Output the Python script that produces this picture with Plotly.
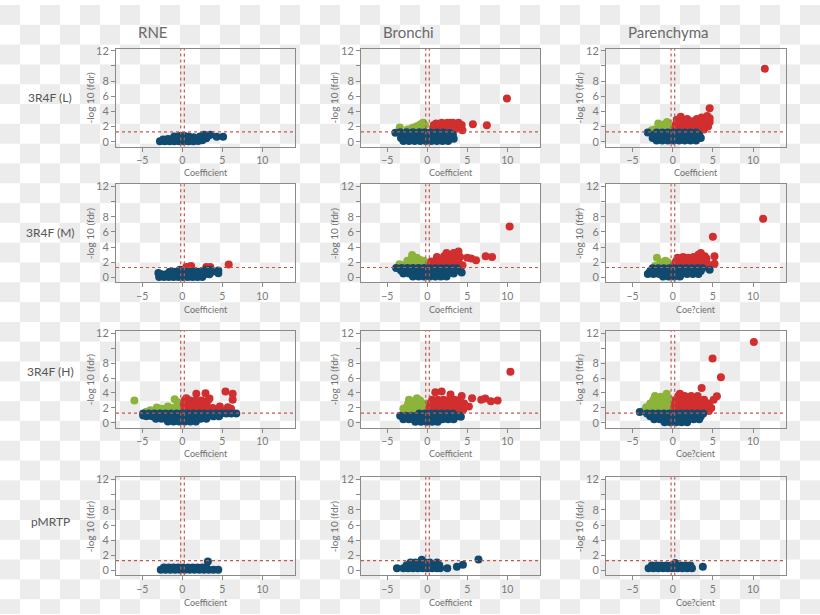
import base64, struct, zlib
import plotly.graph_objects as go

# ---------------- data ----------------
COLUMNS = ["RNE", "Bronchi", "Parenchyma"]
ROWS = ["3R4F (L)", "3R4F (M)", "3R4F (H)", "pMRTP"]
X_TITLES = [
    ["Coefficient", "Coefficient", "Coefficient"],
    ["Coefficient", "Coefficient", "Coe?cient"],
    ["Coefficient", "Coefficient", "Coe?cient"],
    ["Coefficient", "Coefficient", "Coe?cient"],
]
Y_TITLE = "-log 10 (fdr)"
X_TICKS = [-5, 0, 5, 10]
Y_TICKS = [0, 2, 4, 6, 8, 10, 12]
Y_TICK_TEXT = ["0", "2", "4", "6", "8", "", "12"]
FDR_CUTOFF = 1.3
COEF_CUTOFFS = [-0.2, 0.25]

# (coefficient, -log10 fdr) pairs; blue = not significant, green = down, red = up
L_RNE_BLUE = [(-2.8,0.05),(-2.2,0.05),(-1.6,0.05),(-1.0,0.05),(-0.4,0.05),(0.2,0.05),(0.8,0.05),(1.4,0.05),(2.0,0.1),(2.5,0.2),
              (-2.4,0.3),(-1.8,0.35),(-1.2,0.4),(-0.6,0.45),(0.0,0.45),(0.6,0.45),(1.2,0.4),(1.8,0.35),(2.4,0.5),(3.0,0.45),
              (-1.0,0.7),(-0.4,0.75),(0.2,0.8),(0.8,0.7),(1.4,0.6),(2.2,0.7),(2.7,0.9),(3.2,0.75),(3.5,0.9),(4.3,0.65),(5.1,0.65)]
L_RNE_GREEN = []
L_RNE_RED = []

L_BRO_BLUE = [(-3.0,0.1),(-2.3,0.1),(-1.6,0.1),(-0.9,0.1),(-0.2,0.1),(0.5,0.1),(1.2,0.1),(1.9,0.1),(2.6,0.1),
              (-3.3,0.5),(-2.6,0.5),(-1.9,0.5),(-1.2,0.5),(-0.5,0.5),(0.2,0.5),(0.9,0.5),(1.6,0.5),(2.3,0.5),(3.0,0.5),
              (-3.0,0.9),(-2.3,0.9),(-1.6,0.9),(-0.9,0.9),(-0.2,0.9),(0.5,0.9),(1.2,0.9),(1.9,0.9),(2.6,0.9),(3.2,0.9),
              (-3.4,1.25),(-2.6,1.25),(-1.8,1.25),(-1.0,1.25),(-0.3,1.25),(0.4,1.2),(1.2,1.2),(2.0,1.2),(2.8,1.15),
              (-4.0,1.17),(3.3,0.4)]
L_BRO_GREEN = [(-3.45,1.87),(-2.45,1.6),(-1.9,1.8),(-1.3,2.05),(-0.9,2.26),(-0.55,2.5),(-1.1,1.7),(-2.0,1.55),
               (-1.6,1.9),(-0.5,1.9),(-0.3,2.2),(-1.5,1.6)]
L_BRO_RED = [(0.7,1.6),(0.8,2.2),(1.3,1.5),(1.5,1.9),(1.8,2.5),(2.0,1.6),(2.3,2.1),(2.5,2.5),(2.8,1.6),(3.0,2.0),
             (3.2,2.5),(3.5,1.7),(3.7,2.2),(3.9,2.5),(4.1,1.8),(4.4,1.5),(4.3,2.2),(1.1,2.4),(2.9,2.5),
             (5.7,2.3),(7.45,2.17),(9.96,5.7)]

L_PAR_BLUE = [(-2.0,0.15),(-1.3,0.15),(-0.6,0.15),(0.1,0.15),(0.8,0.15),(1.5,0.15),(2.2,0.15),(2.9,0.15),
              (-2.5,0.5),(-1.8,0.5),(-1.1,0.5),(-0.4,0.5),(0.3,0.5),(1.0,0.5),(1.7,0.5),(2.4,0.5),(3.1,0.5),(3.5,0.5),
              (-2.3,0.9),(-1.6,0.9),(-0.9,0.9),(-0.2,0.9),(0.5,0.9),(1.2,0.9),(1.9,0.9),(2.6,0.9),(3.3,0.9),
              (-2.0,1.2),(-1.3,1.2),(-0.6,1.2),(0.1,1.2),(0.8,1.2),(1.5,1.2),(2.2,1.2),(2.9,1.2),
              (-3.1,1.2)]
L_PAR_GREEN = [(-1.8,2.4),(-0.7,2.6),(-2.2,1.6),(-1.3,1.6),(-0.3,2.0),(-2.6,1.5),(-1.7,1.9),(-0.9,1.9),
               (-0.5,1.5),(-1.0,2.3),(-2.0,1.4)]
L_PAR_RED = [(0.3,1.6),(0.4,2.3),(0.5,2.9),(1.0,3.3),(0.9,1.5),(1.0,2.0),(1.2,2.6),(1.5,1.7),(1.7,2.3),(1.8,3.0),
             (2.1,1.5),(2.3,2.0),(2.5,2.7),(2.7,1.6),(2.9,2.2),(3.0,3.0),(3.3,1.8),(3.4,2.5),(3.6,3.2),(3.9,1.6),
             (3.9,2.2),(4.0,2.8),(4.3,3.4),(4.4,2.0),(4.6,2.6),(4.6,4.4),(4.6,3.1),(11.46,9.65)]

M_RNE_BLUE = [(-2.9,0.05),(-2.3,0.05),(-1.7,0.05),(-1.1,0.05),(-0.5,0.05),(0.1,0.05),(0.7,0.05),(1.3,0.05),(1.9,0.05),(2.5,0.05),
              (-2.6,0.4),(-2.0,0.4),(-1.4,0.4),(-0.8,0.4),(-0.2,0.4),(0.4,0.4),(1.0,0.4),(1.6,0.4),(2.2,0.4),(2.8,0.4),(3.4,0.4),
              (-1.6,0.75),(-1.0,0.75),(-0.4,0.75),(0.2,0.75),(0.8,0.75),(1.4,0.75),(2.0,0.75),(2.6,0.75),(3.2,0.75),(3.7,0.75),
              (-3.0,0.57),(-0.3,1.0),(2.9,1.0),(3.5,1.0),(4.5,0.9),(4.5,0.55)]
M_RNE_GREEN = []
M_RNE_RED = [(0.5,1.35),(0.8,1.4),(1.1,1.5),(3.0,1.35),(3.5,1.35),(5.8,1.7)]

M_BRO_BLUE = [(-1.8,0.1),(-1.1,0.1),(-0.4,0.1),(0.3,0.1),(1.0,0.1),(1.7,0.1),(2.4,0.1),
              (-3.0,0.5),(-2.3,0.5),(-1.6,0.5),(-0.9,0.5),(-0.2,0.5),(0.5,0.5),(1.2,0.5),(1.9,0.5),(2.6,0.5),(3.3,0.5),
              (-3.3,0.9),(-2.6,0.9),(-1.9,0.9),(-1.2,0.9),(-0.5,0.9),(0.2,0.9),(0.9,0.9),(1.6,0.9),(2.3,0.9),(3.0,0.9),(3.6,0.9),
              (-3.9,1.25),(-3.2,1.25),(-2.5,1.25),(-1.8,1.25),(-1.1,1.25),(-0.4,1.25),(0.3,1.2),(1.0,1.2),(1.7,1.2),(2.4,1.2),(3.1,1.2),(3.7,1.2),
              (4.3,0.65)]
M_BRO_GREEN = [(-3.5,1.74),(-2.5,2.2),(-1.9,2.96),(-1.3,2.6),(-0.9,2.3),(-0.5,2.2),(-2.9,1.6),(-2.2,1.7),(-1.5,1.8),
               (-0.8,1.7),(-0.3,1.6),(-2.0,2.4),(-1.1,2.1),(-0.2,2.0),(-1.6,2.2)]
M_BRO_RED = [(0.4,1.6),(0.5,2.1),(0.9,1.5),(1.0,2.0),(1.2,2.7),(1.5,1.7),(1.7,2.3),(2.0,1.5),(2.1,2.8),(2.4,2.0),
             (2.4,3.2),(2.7,1.6),(2.9,2.5),(3.1,1.9),(3.3,3.2),(3.5,2.4),(3.6,1.6),(3.9,3.4),(3.9,2.0),(4.1,2.7),
             (5.0,2.6),(5.5,2.5),(6.1,2.26),(7.3,2.8),(8.1,2.7),(10.3,6.7),(4.4,1.6)]

M_PAR_BLUE = [(-1.2,0.1),(-0.5,0.1),(0.2,0.1),(0.9,0.1),
              (-3.1,0.45),(-2.4,0.45),(-1.7,0.45),(-1.0,0.45),(-0.3,0.45),(0.4,0.45),(1.1,0.45),(1.8,0.45),(2.5,0.45),(3.2,0.45),
              (-2.8,0.85),(-2.1,0.85),(-1.4,0.85),(-0.7,0.85),(0.0,0.85),(0.7,0.85),(1.4,0.85),(2.1,0.85),(2.8,0.85),(3.5,0.85),
              (-2.5,1.2),(-1.8,1.2),(-1.1,1.2),(-0.4,1.2),(0.3,1.2),(1.0,1.2),(1.7,1.2),(2.4,1.2),(3.1,1.2),(3.7,1.2),
              (4.6,1.0)]
M_PAR_GREEN = [(-1.96,2.6),(-0.9,2.2),(-2.2,1.5),(-1.6,1.7),(-1.0,1.7),(-0.4,1.6),(-1.4,2.0),(-0.6,2.0),(-0.2,1.5)]
M_PAR_RED = [(0.2,1.5),(0.4,2.1),(0.6,2.6),(0.8,1.6),(1.0,2.2),(1.3,2.7),(1.4,1.5),(1.6,2.0),(1.9,2.6),(2.1,1.6),
             (2.3,2.2),(2.6,2.7),(2.8,1.5),(3.0,2.1),(3.3,2.6),(3.5,3.2),(3.5,1.6),(3.8,2.2),(4.0,2.8),(4.3,1.8),
             (4.2,2.5),(3.2,3.0),(5.0,5.35),(5.2,2.8),(5.2,1.8),(11.25,7.74)]

H_RNE_BLUE = [(-4.9,1.25),(-4.2,1.25),(-3.5,1.25),(-2.8,1.25),(-2.1,1.25),(-1.4,1.25),(-0.7,1.25),(0.0,1.25),(0.7,1.25),
              (1.4,1.25),(2.1,1.25),(2.8,1.25),(3.5,1.25),(4.2,1.25),(4.9,1.25),(5.5,1.25),(6.1,1.25),
              (-4.5,0.9),(-3.8,0.9),(-3.1,0.9),(-2.4,0.9),(-1.7,0.9),(-1.0,0.9),(-0.3,0.9),(0.4,0.9),(1.1,0.9),
              (1.8,0.9),(2.5,0.9),(3.2,0.9),(3.9,0.9),(4.6,0.9),
              (-3.3,0.55),(-2.6,0.55),(-1.9,0.55),(-1.2,0.55),(-0.5,0.55),(0.2,0.55),(0.9,0.55),(1.6,0.55),(2.3,0.55),(3.0,0.55),
              (-1.8,0.2),(-1.1,0.2),(-0.4,0.2),(0.3,0.2),(1.0,0.2),(1.7,0.2),
              (-4.9,1.0),(6.75,1.27)]
H_RNE_GREEN = [(-6.0,3.0),(-0.96,3.15),(-4.0,1.7),(-3.2,2.05),(-2.2,1.9),(-1.8,2.2),(-1.2,2.0),(-0.5,2.35),(-4.5,1.5),
               (-3.7,1.5),(-3.0,1.6),(-2.4,1.5),(-1.6,1.6),(-0.9,1.6),(-0.3,1.7),(-2.7,1.9),(-0.6,2.8)]
H_RNE_RED = [(0.2,1.5),(0.9,1.5),(1.6,1.5),(2.3,1.5),(3.0,1.5),(3.7,1.5),(4.4,1.5),
             (0.3,2.0),(1.0,2.0),(1.7,2.0),(2.4,2.0),(3.1,2.0),(3.8,2.0),
             (0.2,2.5),(0.9,2.5),(1.6,2.5),(2.3,2.5),(3.0,2.5),
             (0.3,3.0),(1.0,3.0),(1.7,3.0),(2.4,3.0),(3.2,3.0),
             (0.5,3.3),(1.75,3.9),(2.9,3.95),(3.4,3.25),
             (5.4,4.2),(6.3,3.9),(6.3,3.1),(5.7,2.1),(6.1,1.9),(3.6,1.9),(4.7,2.2),(5.0,1.6),(5.6,1.6)]

H_BRO_BLUE = [(-1.5,0.15),(-0.8,0.15),(-0.1,0.15),(0.6,0.15),(1.3,0.15),
              (-3.0,0.5),(-2.3,0.5),(-1.6,0.5),(-0.9,0.5),(-0.2,0.5),(0.5,0.5),(1.2,0.5),(1.9,0.5),(2.6,0.5),(3.3,0.5),
              (-3.4,0.95),(-2.7,0.95),(-2.0,0.95),(-1.3,0.95),(-0.6,0.95),(0.1,0.95),(0.8,0.95),(1.5,0.95),(2.2,0.95),
              (2.9,0.95),(3.6,0.95),(4.0,0.95),
              (-1.0,1.25),(-0.3,1.25),(0.4,1.25),(1.1,1.25),(1.8,1.25),(2.5,1.25),(3.2,1.25),
              (4.2,0.83)]
H_BRO_GREEN = [(-2.5,1.6),(-1.9,1.6),(-1.3,1.6),(-0.7,1.6),(-0.2,1.6),
               (-2.6,2.1),(-2.0,2.1),(-1.4,2.1),(-0.8,2.1),(-0.2,2.1),
               (-2.4,2.6),(-1.8,2.6),(-1.2,2.6),(-0.6,2.6),(-0.1,2.6),
               (-2.2,3.0),(-1.5,3.0),(-0.9,3.0),
               (-3.0,1.9),(-1.3,3.3),(-2.3,3.1)]
H_BRO_RED = [(0.4,1.6),(1.1,1.6),(1.8,1.6),(2.5,1.6),(3.2,1.6),(3.9,1.6),
             (0.3,2.1),(1.0,2.1),(1.7,2.1),(2.4,2.1),(3.1,2.1),(3.8,2.1),(4.5,2.1),
             (0.4,2.6),(1.1,2.6),(1.8,2.6),(2.5,2.6),(3.2,2.6),(3.9,2.6),(4.6,2.6),
             (0.6,3.1),(1.3,3.1),(2.0,3.1),(2.7,3.1),(3.4,3.1),(4.1,3.1),
             (1.0,4.1),(1.8,4.2),(2.9,3.8),(4.3,3.6),
             (5.6,3.3),(6.75,3.1),(7.25,3.25),(7.95,2.9),(8.8,3.0),(10.4,6.85),(4.5,1.8),(5.2,2.2)]

H_PAR_BLUE = [(-1.0,0.1),(-0.3,0.1),(0.4,0.1),(1.1,0.1),(1.8,0.1),
              (-2.3,0.5),(-1.6,0.5),(-0.9,0.5),(-0.2,0.5),(0.5,0.5),(1.2,0.5),(1.9,0.5),(2.6,0.5),(3.3,0.5),
              (-2.8,0.9),(-2.1,0.9),(-1.4,0.9),(-0.7,0.9),(0.0,0.9),(0.7,0.9),(1.4,0.9),(2.1,0.9),(2.8,0.9),(3.5,0.9),
              (-3.2,1.25),(-2.5,1.25),(-1.8,1.25),(-1.1,1.25),(-0.4,1.25),(0.3,1.25),(1.0,1.25),(1.7,1.25),
              (2.4,1.25),(3.1,1.25),(3.8,1.25),
              (-4.1,1.45)]
H_PAR_GREEN = [(-3.6,1.6),(-2.9,1.6),(-2.2,1.6),(-1.5,1.6),(-0.8,1.6),(-0.2,1.6),
               (-3.3,2.1),(-2.6,2.1),(-1.9,2.1),(-1.2,2.1),(-0.5,2.1),
               (-2.8,2.6),(-2.1,2.6),(-1.4,2.6),(-0.7,2.6),(-0.2,2.6),
               (-2.4,3.1),(-1.7,3.1),(-1.0,3.1),(-0.3,3.1),
               (-2.2,3.6),(-0.75,3.9),(-1.5,3.5)]
H_PAR_RED = [(0.3,1.6),(1.0,1.6),(1.7,1.6),(2.4,1.6),(3.1,1.6),(3.8,1.6),(4.5,1.6),
             (0.2,2.1),(0.9,2.1),(1.6,2.1),(2.3,2.1),(3.0,2.1),(3.7,2.1),(4.4,2.1),
             (0.3,2.6),(1.0,2.6),(1.7,2.6),(2.4,2.6),(3.1,2.6),(3.8,2.6),(4.5,2.6),
             (0.4,3.1),(1.1,3.1),(1.8,3.1),(2.5,3.1),(3.2,3.1),(3.9,3.1),
             (0.7,3.6),(1.5,3.6),(2.3,3.6),(3.1,3.6),
             (0.9,3.9),(3.6,4.65),(5.5,3.55),(5.1,3.1),(4.8,2.0),(4.96,8.6),(6.0,6.1),(10.1,10.8)]

P_RNE_BLUE = [(-2.7,0.1),(-2.1,0.1),(-1.5,0.1),(-0.9,0.1),(-0.3,0.1),(0.3,0.1),(0.9,0.1),(1.5,0.1),(2.1,0.1),
              (2.7,0.1),(3.3,0.1),(3.9,0.1),(4.5,0.1),
              (-2.3,0.4),(-1.7,0.4),(-1.1,0.4),(-0.5,0.4),(0.1,0.4),(0.7,0.4),(1.3,0.4),(1.9,0.4),(2.5,0.4),(3.0,0.4),
              (3.2,1.2)]
P_RNE_GREEN = []
P_RNE_RED = []

P_BRO_BLUE = [(-3.8,0.3),(-3.0,0.3),(-2.4,0.3),(-1.8,0.3),(-1.2,0.3),(-0.6,0.3),(0.0,0.3),(0.6,0.3),(1.2,0.3),(1.6,0.3),(2.5,0.3),
              (-2.6,0.7),(-2.0,0.7),(-1.4,0.7),(-0.8,0.7),(-0.2,0.7),(0.4,0.7),(1.0,0.7),(1.5,0.7),
              (-2.1,1.05),(-1.5,1.05),(-0.9,1.05),(-0.3,1.05),(0.3,1.05),(1.2,1.05),
              (-0.7,1.4),(3.7,0.5),(4.45,0.75),(6.4,1.45)]
P_BRO_GREEN = []
P_BRO_RED = []

P_PAR_BLUE = [(-3.0,0.3),(-2.4,0.3),(-1.8,0.3),(-1.2,0.3),(-0.6,0.3),(0.0,0.3),(0.6,0.3),(1.2,0.3),(1.8,0.3),(2.4,0.3),
              (-2.6,0.65),(-2.0,0.65),(-1.4,0.65),(-0.8,0.65),(-0.2,0.65),(0.4,0.65),(1.0,0.65),(1.6,0.65),(2.2,0.65),
              (0.3,1.0),(3.75,0.5)]
P_PAR_GREEN = []
P_PAR_RED = []

PANELS = [
    [(L_RNE_BLUE, L_RNE_GREEN, L_RNE_RED), (L_BRO_BLUE, L_BRO_GREEN, L_BRO_RED), (L_PAR_BLUE, L_PAR_GREEN, L_PAR_RED)],
    [(M_RNE_BLUE, M_RNE_GREEN, M_RNE_RED), (M_BRO_BLUE, M_BRO_GREEN, M_BRO_RED), (M_PAR_BLUE, M_PAR_GREEN, M_PAR_RED)],
    [(H_RNE_BLUE, H_RNE_GREEN, H_RNE_RED), (H_BRO_BLUE, H_BRO_GREEN, H_BRO_RED), (H_PAR_BLUE, H_PAR_GREEN, H_PAR_RED)],
    [(P_RNE_BLUE, P_RNE_GREEN, P_RNE_RED), (P_BRO_BLUE, P_BRO_GREEN, P_BRO_RED), (P_PAR_BLUE, P_PAR_GREEN, P_PAR_RED)],
]

# ---------------- styling / layout ----------------
W, H = 820, 615
BLUE, GREEN, RED = "#114a6f", "#8db43a", "#d12f2f"
LINE_RED = "#c4574c"
AXIS_GREY = "#8a8a8a"
FONT = "Lato, 'Open Sans', sans-serif"
COL_PX = [(116, 295), (361, 540), (606, 786)]
ROW_PX = [(44, 143), (181, 280), (329, 427), (477, 576)]
X_TITLE_Y_PX = [169, 307, 453, 603]
Y_TITLE_X_PX = [90, 334, 579]
X_RANGE = [-8.3, 14.1]
Y_RANGE = [-0.65, 12.3]


def checker_png(w, h, cell, c1, c2):
    rows = []
    for parity in (0, 1):
        row = bytearray()
        for x in range(w):
            col = c1 if ((x // cell) + parity) % 2 == 0 else c2
            row += bytes(col)
        rows.append(bytes(row))
    raw = bytearray()
    for y in range(h):
        raw += b"\x00" + rows[(y // cell) % 2]
    def chunk(t, d):
        c = struct.pack(">I", len(d)) + t + d
        return c + struct.pack(">I", zlib.crc32(t + d) & 0xffffffff)
    png = b"\x89PNG\r\n\x1a\n" + chunk(b"IHDR", struct.pack(">IIBBBBB", w, h, 8, 2, 0, 0, 0))
    png += chunk(b"IDAT", zlib.compress(bytes(raw), 9)) + chunk(b"IEND", b"")
    return "data:image/png;base64," + base64.b64encode(png).decode()


fig = go.Figure()
layout = {}
shapes = []
annotations = []
title_font = dict(family=FONT, size=10, color="#6f6f6f")

for r in range(4):
    for c in range(3):
        k = r * 3 + c + 1
        xa = "xaxis" if k == 1 else f"xaxis{k}"
        ya = "yaxis" if k == 1 else f"yaxis{k}"
        xr = "x" if k == 1 else f"x{k}"
        yr = "y" if k == 1 else f"y{k}"
        l, rr = COL_PX[c]
        t, b = ROW_PX[r]
        common = dict(showgrid=False, zeroline=False, showline=True, mirror=True, linecolor=AXIS_GREY,
                      linewidth=1, ticks="outside", ticklen=4, tickcolor=AXIS_GREY)
        layout[xa] = dict(domain=[l / W, rr / W], anchor=yr, range=X_RANGE, tickvals=X_TICKS,
                          tickfont=dict(family=FONT, size=10.5, color="#7a7a7a"), **common)
        layout[ya] = dict(domain=[1 - b / H, 1 - t / H], anchor=xr, range=Y_RANGE, tickvals=Y_TICKS,
                          ticktext=Y_TICK_TEXT, tickfont=dict(family=FONT, size=11, color="#7a7a7a"), **common)
        annotations.append(dict(text=X_TITLES[r][c], x=(l + rr) / 2 / W, y=1 - X_TITLE_Y_PX[r] / H,
                                xref="paper", yref="paper", showarrow=False, xanchor="center", yanchor="middle",
                                font=dict(family=FONT, size=9, color="#6f6f6f")))
        annotations.append(dict(text=Y_TITLE, x=Y_TITLE_X_PX[c] / W, y=1 - (t + b) / 2 / H, textangle=-90,
                                xref="paper", yref="paper", showarrow=False, xanchor="center", yanchor="middle",
                                font=title_font))
        blue, green, red = PANELS[r][c]
        for pts, col in ((green, GREEN), (red, RED), (blue, BLUE)):
            if pts:
                fig.add_trace(go.Scatter(x=[p[0] for p in pts], y=[p[1] for p in pts], mode="markers",
                                         xaxis=xr, yaxis=yr, showlegend=False, hoverinfo="skip",
                                         marker=dict(size=8, color=col, line=dict(width=0))))
        for xv in COEF_CUTOFFS:
            shapes.append(dict(type="line", xref=xr, yref=f"{yr} domain", x0=xv, x1=xv, y0=0, y1=1,
                               line=dict(color=LINE_RED, width=1.2, dash="dot"), layer="above"))
        shapes.append(dict(type="line", xref=f"{xr} domain", yref=yr, x0=0, x1=1, y0=FDR_CUTOFF, y1=FDR_CUTOFF,
                           line=dict(color=LINE_RED, width=1.2, dash="dot"), layer="above"))

COL_TITLE_PX = [153, 408, 668]
for c, name in enumerate(COLUMNS):
    annotations.append(dict(text=name, x=COL_TITLE_PX[c] / W, y=1 - 27 / H, xref="paper", yref="paper",
                            showarrow=False, xanchor="center", yanchor="middle",
                            font=dict(family=FONT, size=15, color="#6a6a6a")))
ROW_TITLE_PX = [93, 230, 370, 522]
for r, name in enumerate(ROWS):
    annotations.append(dict(text=name, x=50 / W, y=1 - ROW_TITLE_PX[r] / H, xref="paper", yref="paper",
                            showarrow=False, xanchor="center", yanchor="middle",
                            font=dict(family=FONT, size=12, color="#555555")))

fig.update_layout(
    width=W, height=H, margin=dict(l=0, r=0, t=0, b=0),
    paper_bgcolor="white", plot_bgcolor="rgba(0,0,0,0)",
    shapes=shapes, annotations=annotations,
    images=[dict(source=checker_png(W, H, 20, (236, 236, 236), (255, 255, 255)), xref="paper", yref="paper",
                 x=0, y=1, sizex=1, sizey=1, xanchor="left", yanchor="top", sizing="stretch", layer="below")],
    **layout,
)
fig.write_html("out.html", config={"displayModeBar": False},
               post_script="document.body.style.margin='0';document.body.style.overflow='hidden';")
